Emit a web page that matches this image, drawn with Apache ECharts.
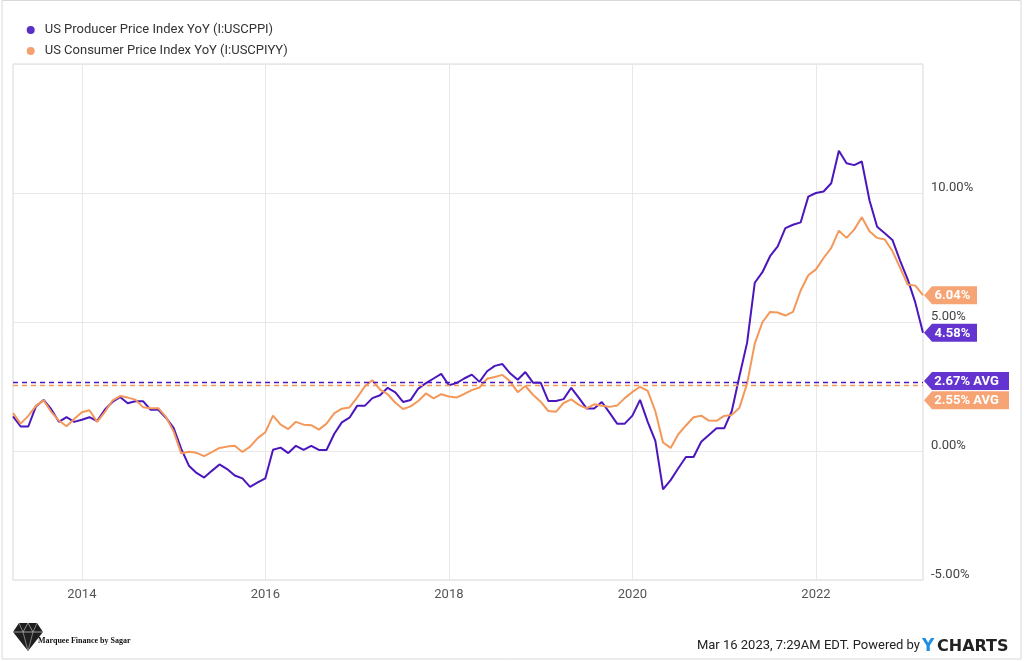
<!DOCTYPE html>
<html>
<head>
<meta charset="utf-8">
<script src="https://cdn.jsdelivr.net/npm/echarts@6/dist/echarts.min.js"></script>
<style>
html,body{margin:0;padding:0;background:#fff;}
#chart{width:1024px;height:661px;}
</style>
</head>
<body>
<div id="chart"></div>
<script>
// ---- data (monthly, Mar 2013 .. Feb 2023) ----
const seriesNames = ['US Producer Price Index YoY (I:USCPPI)', 'US Consumer Price Index YoY (I:USCPIYY)'];
const ppi = [
  1.34, 0.95, 0.95, 1.73, 1.98, 1.62, 1.13, 1.31, 1.13, 1.21,
  1.31, 1.16, 1.60, 1.90, 2.09, 1.85, 1.93, 1.93, 1.60, 1.60, 1.29, 0.90,
  0.08, -0.57, -0.85, -1.03, -0.77, -0.52, -0.70, -0.95, -1.06, -1.39, -1.22, -1.06,
  0.05, 0.13, -0.08, 0.20, 0.04, 0.20, 0.04, 0.04, 0.66, 1.11, 1.29, 1.75,
  1.75, 2.05, 2.16, 2.45, 2.27, 1.90, 1.98, 2.42, 2.63, 2.81, 2.99, 2.55,
  2.63, 2.81, 2.96, 2.68, 3.09, 3.30, 3.37, 3.01, 2.76, 3.06, 2.65, 2.65,
  1.94, 1.94, 2.01, 2.45, 2.06, 1.65, 1.65, 1.90, 1.49, 1.06, 1.06, 1.37,
  1.98, 1.13, 0.39, -1.49, -1.13, -0.67, -0.23, -0.23, 0.36, 0.62, 0.88, 0.88,
  1.55, 2.91, 4.20, 6.52, 6.93, 7.55, 7.93, 8.64, 8.77, 8.86, 9.86, 10.00,
  10.06, 10.38, 11.64, 11.15, 11.08, 11.22, 9.72, 8.69, 8.44, 8.18, 7.38, 6.65,
  5.75, 4.58
];
const cpi = [
  1.47, 1.06, 1.36, 1.75, 1.96, 1.52, 1.18, 0.96, 1.24, 1.50,
  1.58, 1.13, 1.51, 1.95, 2.13, 2.07, 1.99, 1.70, 1.66, 1.66, 1.32, 0.76,
  -0.09, -0.03, -0.07, -0.20, -0.04, 0.12, 0.17, 0.20, -0.04, 0.17, 0.50, 0.73,
  1.37, 1.02, 0.85, 1.13, 1.02, 1.00, 0.83, 1.06, 1.46, 1.64, 1.69, 2.07,
  2.50, 2.74, 2.38, 2.20, 1.87, 1.63, 1.73, 1.94, 2.23, 2.04, 2.20, 2.11,
  2.07, 2.21, 2.36, 2.46, 2.80, 2.87, 2.95, 2.70, 2.28, 2.52, 2.18, 1.91,
  1.55, 1.52, 1.86, 2.00, 1.79, 1.65, 1.81, 1.75, 1.71, 1.76, 2.05, 2.29,
  2.49, 2.33, 1.54, 0.33, 0.12, 0.65, 0.99, 1.31, 1.37, 1.18, 1.17, 1.36,
  1.40, 1.68, 2.62, 4.16, 4.99, 5.39, 5.37, 5.25, 5.39, 6.22, 6.81, 7.04,
  7.48, 7.87, 8.54, 8.26, 8.58, 9.06, 8.52, 8.26, 8.20, 7.75, 7.11, 6.45,
  6.41, 6.04
];
const averages = [2.67, 2.55];
const yTicks = [-5, 0, 5, 10, 15];

// month categories (end-of-month readings)
const months = [];
for (let y = 2013, m = 3; !(y === 2023 && m === 3);) {
  months.push(y + '-' + String(m).padStart(2, '0'));
  m++; if (m > 12) { m = 1; y++; }
}
const lastMonth = months[months.length - 1];

// styles
const PURPLE = '#4b17bd', ORANGE = '#f4985a';
const PURPLE_TAG = '#6334cf', ORANGE_TAG = '#f7a474';
const FONT = 'Roboto';

function tagPath(w, h) {
  return 'path://M0,' + (h / 2) + 'L8,0L' + w + ',0L' + w + ',' + h + 'L8,' + h + 'Z';
}
function tag(value, text, w, color, dy, dx) {
  return {
    coord: [lastMonth, value],
    symbol: tagPath(w, 18),
    symbolSize: [w, 18],
    symbolOffset: [w / 2 + 1, dy],
    itemStyle: { color: color },
    label: {
      show: true, position: 'inside', formatter: text, offset: [dx, 1],
      color: '#fff', fontWeight: 'bold', fontSize: 13, fontFamily: FONT
    }
  };
}
// year boundary = December reading (end of Dec == start of next year)
function isYearTick(idx, val) {
  return val.slice(5) === '12' && (+val.slice(0, 4)) % 2 === 1;
}

const chart = echarts.init(document.getElementById('chart'), null, { renderer: 'canvas' });
const ppiLast = ppi[ppi.length - 1], cpiLast = cpi[cpi.length - 1];

chart.setOption({
  animation: false,
  backgroundColor: '#fff',
  textStyle: { fontFamily: FONT },
  legend: {
    orient: 'vertical', left: 21.7, top: 18, icon: 'circle',
    itemWidth: 18, itemHeight: 8, itemGap: 7,
    textStyle: { fontSize: 13, color: '#333', fontFamily: FONT, lineHeight: 14 },
    data: [
      { name: seriesNames[0], itemStyle: { color: '#5a2fc8' } },
      { name: seriesNames[1], itemStyle: { color: '#f5a070' } }
    ],
    selectedMode: false
  },
  grid: {
    left: 13, right: 101, top: 64, bottom: 81,
    show: true, borderColor: '#d9d9d9', borderWidth: 1, backgroundColor: '#fff'
  },
  xAxis: {
    type: 'category', data: months, boundaryGap: false,
    axisLine: { show: false }, axisTick: { show: false },
    axisLabel: {
      interval: isYearTick, margin: 8,
      formatter: v => String(+v.slice(0, 4) + 1),
      color: '#555', fontSize: 13, fontFamily: FONT
    },
    splitLine: { show: true, interval: isYearTick, lineStyle: { color: '#e8e8e8', width: 1 } }
  },
  yAxis: {
    type: 'value', position: 'right',
    min: yTicks[0], max: yTicks[yTicks.length - 1], interval: 5,
    axisLine: { show: false }, axisTick: { show: false },
    axisLabel: {
      formatter: v => (v === yTicks[yTicks.length - 1] ? '' : v.toFixed(2) + '%'),
      verticalAlign: 'bottom', lineHeight: 10, margin: 8,
      color: '#444', fontSize: 13, fontFamily: FONT
    },
    splitLine: { lineStyle: { color: '#e8e8e8', width: 1 } }
  },
  series: [
    {
      name: seriesNames[0], type: 'line', data: ppi, showSymbol: false,
      lineStyle: { color: PURPLE, width: 2 }, itemStyle: { color: PURPLE },
      markLine: {
        silent: true, symbol: 'none', label: { show: false },
        lineStyle: { color: PURPLE, type: [5, 4], width: 1.3 },
        data: [{ yAxis: averages[0] }]
      },
      markPoint: {
        silent: true,
        data: [
          tag(ppiLast, ppiLast.toFixed(2) + '%', 53, PURPLE_TAG, 0, 2),
          tag(averages[0], averages[0].toFixed(2) + '% AVG', 85, PURPLE_TAG, -1, 0)
        ]
      }
    },
    {
      name: seriesNames[1], type: 'line', data: cpi, showSymbol: false,
      lineStyle: { color: ORANGE, width: 2 }, itemStyle: { color: ORANGE },
      markLine: {
        silent: true, symbol: 'none', label: { show: false },
        lineStyle: { color: ORANGE, type: [5, 4], width: 1.3 },
        data: [{ yAxis: averages[1] }]
      },
      markPoint: {
        silent: true,
        data: [
          tag(cpiLast, cpiLast.toFixed(2) + '%', 53, ORANGE_TAG, 0, 2),
          tag(averages[1], averages[1].toFixed(2) + '% AVG', 85, ORANGE_TAG, 15, 0)
        ]
      }
    }
  ],
  graphic: [
    { type: 'rect', shape: { x: 2, y: 0.5, width: 1019, height: 658.5 }, style: { fill: 'none', stroke: '#d9d9d9', lineWidth: 1 }, silent: true },
    // logo
    { type: 'polygon', shape: { points: [[19, 623], [37, 623], [43, 632], [28, 651], [13, 632]] }, style: { fill: '#1e1e1e' }, silent: true },
    { type: 'polyline', shape: { points: [[13, 632], [43, 632]] }, style: { stroke: '#bbb', lineWidth: 0.8 }, silent: true },
    { type: 'polyline', shape: { points: [[19, 623], [23, 632], [28, 651], [33, 632], [37, 623]] }, style: { stroke: '#999', lineWidth: 0.8, fill: 'none' }, silent: true },
    { type: 'polyline', shape: { points: [[23, 632], [28, 623], [33, 632]] }, style: { stroke: '#aaa', lineWidth: 0.8, fill: 'none' }, silent: true },
    { type: 'text', x: 38, y: 641, style: { text: 'Marquee Finance by Sagar', font: 'bold 8px "Liberation Serif"', fill: '#111', verticalAlign: 'middle' }, silent: true },
    // footer
    { type: 'text', x: 920, y: 646, style: { text: 'Mar 16 2023, 7:29AM EDT. Powered by', font: '13px Roboto', fill: '#222', align: 'right', verticalAlign: 'middle' }, silent: true },
    { type: 'text', x: 922, y: 647, style: { text: 'Y', font: 'bold 17px "DejaVu Sans"', fill: '#1d8ee6', verticalAlign: 'middle' }, silent: true },
    { type: 'text', x: 937, y: 647, style: { text: 'CHARTS', font: 'bold 16px "DejaVu Sans"', fill: '#222', verticalAlign: 'middle' }, silent: true }
  ]
});
</script>
</body>
</html>
